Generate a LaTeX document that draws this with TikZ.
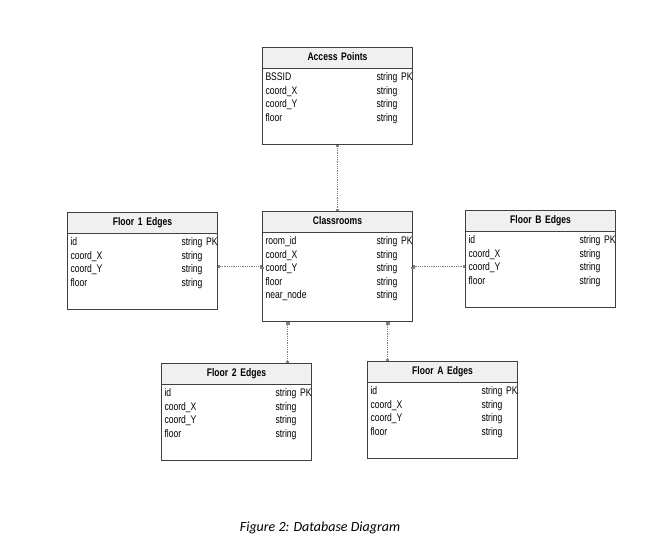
\documentclass[tikz,border=0pt]{standalone}
\usepackage{fontspec}
\setmainfont{Carlito}
\newfontfamily\erfont[FakeStretch=0.78,WordSpace=0.7]{Liberation Sans}
\usepackage{tikz}
\usetikzlibrary{arrows.meta,positioning,shapes.multipart}

\begin{document}
\begin{tikzpicture}[x=1pt,y=1pt]
	\useasboundingbox (0,0) rectangle (656,-549);
	\begin{scope}[every node/.style={rectangle split,rectangle split parts=2,draw=black!75,line width=1pt,rectangle split part fill={black!6,white},align=center,text width=144pt,inner xsep=3pt,inner ysep=3pt,anchor=north west,font=\erfont\fontsize{11}{13.5}\selectfont}]
		\node (ap) at (262,-47) {\textbf{Access Points}\strut
			\nodepart{two}\makebox[144pt][l]{\begin{tabular}{@{}p{111pt}@{}l@{}}
				BSSID & string PK\\ coord\_X & string\\ coord\_Y & string\\ floor & string\\[15pt]
			\end{tabular}}};
		\node (cls) at (262,-211) {\textbf{Classrooms}\strut
			\nodepart{two}\makebox[144pt][l]{\begin{tabular}{@{}p{111pt}@{}l@{}}
				room\_id & string PK\\ coord\_X & string\\ coord\_Y & string\\ floor & string\\ near\_node & string\\[15pt]
			\end{tabular}}};
		\node (f1) at (67,-212) {\textbf{Floor 1 Edges}\strut
			\nodepart{two}\makebox[144pt][l]{\begin{tabular}{@{}p{111pt}@{}l@{}}
				id & string PK\\ coord\_X & string\\ coord\_Y & string\\ floor & string\\[15pt]
			\end{tabular}}};
		\node (fb) at (465,-210) {\textbf{Floor B Edges}\strut
			\nodepart{two}\makebox[144pt][l]{\begin{tabular}{@{}p{111pt}@{}l@{}}
				id & string PK\\ coord\_X & string\\ coord\_Y & string\\ floor & string\\[15pt]
			\end{tabular}}};
		\node (f2) at (161,-363) {\textbf{Floor 2 Edges}\strut
			\nodepart{two}\makebox[144pt][l]{\begin{tabular}{@{}p{111pt}@{}l@{}}
				id & string PK\\ coord\_X & string\\ coord\_Y & string\\ floor & string\\[15pt]
			\end{tabular}}};
		\node (fa) at (367,-361) {\textbf{Floor A Edges}\strut
			\nodepart{two}\makebox[144pt][l]{\begin{tabular}{@{}p{111pt}@{}l@{}}
				id & string PK\\ coord\_X & string\\ coord\_Y & string\\ floor & string\\[15pt]
			\end{tabular}}};
	\end{scope}
	\begin{scope}[every edge/.style={densely dotted,draw,line width=0.8pt},black!50]
		\draw[{Rectangle[length=2pt,width=3.5pt]}-{Rectangle[length=2pt,width=3.5pt]}] (ap) edge (cls);
		\draw[{Rectangle[length=2pt,width=3.5pt]}-{Rectangle[length=2pt,width=3.5pt]}] (cls.west) edge (cls.west -| f1.east);
		\draw[{Rectangle[length=2pt,width=3.5pt]}-{Rectangle[length=2pt,width=3.5pt]}] (cls.east) edge (cls.east -| fb.west);
		\draw[{Rectangle[length=2pt,width=3.5pt]}-{Rectangle[length=2pt,width=3.5pt]}] ([xshift=-50pt]cls.south) edge ([xshift=-50pt]cls.south |- f2.north);
		\draw[{Rectangle[length=2pt,width=3.5pt]}-{Rectangle[length=2pt,width=3.5pt]}] ([xshift=50pt]cls.south) edge ([xshift=50pt]cls.south |- fa.north);
	\end{scope}
	\node (caption) at (320,-528) {\fontsize{14}{16}\selectfont\itshape Figure 2: Database Diagram};
\end{tikzpicture}
\end{document}
